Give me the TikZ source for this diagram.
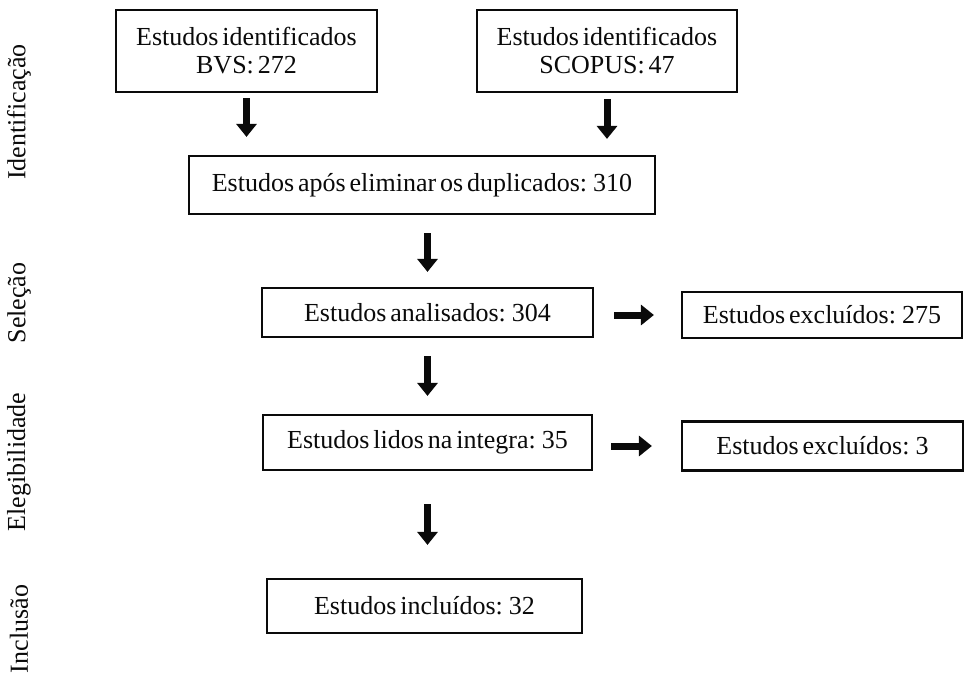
\documentclass[tikz,border=0pt]{standalone}
\usepackage{fontspec}
\setmainfont{Liberation Serif}[WordSpace=0.6]
\usepackage{xcolor}
\usepackage{tikz}
\usetikzlibrary{calc,arrows.meta}
\definecolor{ink}{HTML}{0A0A0A}
\tikzset{
  box/.style={draw=ink, line width=2.2pt, inner sep=0pt, align=center,
    font=\fontsize{26}{28}\selectfont, text=ink},
  arr/.style={draw=ink, line width=7pt,
    -{Triangle[width=20pt,length=13pt]}},
  sidelab/.style={rotate=90, text=ink, font=\fontsize{26}{28}\selectfont},
}

\begin{document}
\begin{tikzpicture}[x=1pt,y=-1pt]
  \useasboundingbox[fill=white] (0,0) rectangle (965,673);

  % phase labels down the left side
  \node[sidelab] (fase1) at (19,112) {Identificação};
  \node[sidelab] (fase2) at (19,303) {Seleção};
  \node[sidelab] (fase3) at (19,462) {Elegibilidade};
  \node[sidelab] (fase4) at (19,629) {Inclusão};

  % boxes, placed by centre
  \node[box, minimum width=261, minimum height=82] (bvs) at (246.5,51)
    {Estudos identificados\\BVS: 272};
  \node[box, minimum width=260, minimum height=82] (scopus) at (607,51)
    {Estudos identificados\\SCOPUS: 47};
  \node[box, minimum width=466, minimum height=58] (dup) at (422,185)
    {Estudos após eliminar os duplicados: 310};
  \node[box, minimum width=331, minimum height=49] (anal) at (427.5,312.5)
    {Estudos analisados: 304};
  \node[box, minimum width=280, minimum height=46] (excl1) at (822,315)
    {Estudos excluídos: 275};
  \node[box, minimum width=329, minimum height=55] (lidos) at (427.5,442.5)
    {Estudos lidos na integra: 35};
  \node[box, minimum width=281, minimum height=49] (excl2) at (822.5,446)
    {Estudos excluídos: 3};
  \node[box, minimum width=315, minimum height=54] (incl) at (424.5,606)
    {Estudos incluídos: 32};

  % downward arrows, they stop short of the boxes
  \draw[arr, shorten <=5pt, shorten >=18pt] (bvs.south) -- (bvs.south |- dup.north);
  \draw[arr, shorten <=6pt, shorten >=16pt] (scopus.south) -- (scopus.south |- dup.north);
  \draw[arr, shorten <=18pt, shorten >=15pt] (anal.north |- dup.south) -- (anal.north);
  \draw[arr, shorten <=18pt, shorten >=18pt] (anal.south) -- (lidos.north);
  \draw[arr, shorten <=33pt, shorten >=33pt] (lidos.south) -- (lidos.south |- incl.north);

  % sideways arrows to the excluded boxes
  \draw[arr, shorten <=20pt, shorten >=27pt] (anal.east |- excl1.west) -- (excl1.west);
  \draw[arr, shorten <=18pt, shorten >=29pt] (lidos.east |- excl2.west) -- (excl2.west);
\end{tikzpicture}
\end{document}
